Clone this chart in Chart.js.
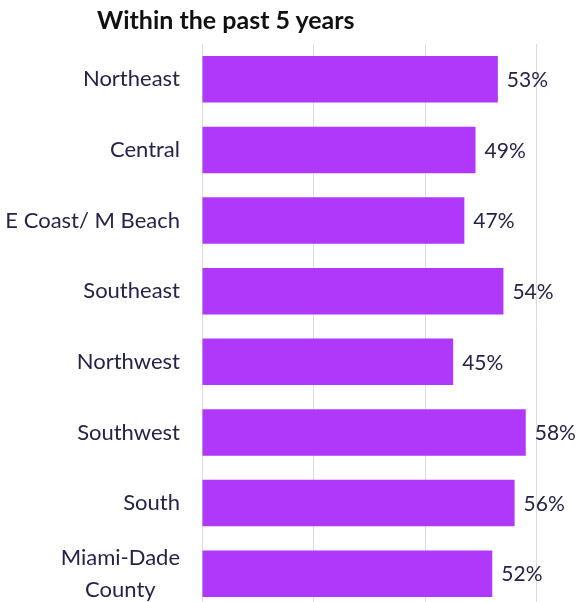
<!DOCTYPE html>
<html>
<head>
<meta charset="utf-8">
<script src="https://cdn.jsdelivr.net/npm/chart.js@4"></script>
<style>
  html,body{margin:0;padding:0;background:#fff;overflow:hidden;}
  #wrap{position:relative;width:576px;height:602px;}
  #title{position:absolute;left:97px;top:4px;font:bold 25px Lato, sans-serif;color:#111;white-space:nowrap;}
  #chart{position:absolute;left:0;top:0;}
</style>
</head>
<body>
<div id="wrap">
  <canvas id="chart" width="576" height="609"></canvas>
  <div id="title">Within the past 5 years</div>
</div>
<script>
/* Regions, share within the past 5 years (%) */
const regions = ['Northeast','Central','E Coast/ M Beach','Southeast','Northwest','Southwest','South',['Miami-Dade','County']];
const shares = [53,49,47,54,45,58,56,52];
const xTicks = [0,20,40,60];

const purple = '#b038fa';
const grid = '#dcdcdc';
const text = '#25234a';

// value labels at the end of each bar
const valueLabels = {
  id:'valueLabels',
  afterDatasetsDraw(chart){
    const ctx = chart.ctx;
    const meta = chart.getDatasetMeta(0);
    ctx.save();
    ctx.font = '21px Lato, sans-serif';
    ctx.fillStyle = text;
    ctx.textAlign = 'left';
    ctx.textBaseline = 'middle';
    meta.data.forEach((bar,i)=>{
      ctx.fillText(shares[i]+'%', bar.x+9, bar.y+1);
    });
    ctx.restore();
  }
};

// category labels: block right-aligned to the axis, lines centred within the block
const categoryLabels = {
  id:'categoryLabels',
  afterDraw(chart){
    const ctx = chart.ctx;
    const y = chart.scales.y;
    const right = y.right - 22;
    const lh = 32;
    ctx.save();
    ctx.font = '22px Lato, sans-serif';
    ctx.fillStyle = text;
    ctx.textAlign = 'center';
    ctx.textBaseline = 'middle';
    regions.forEach((lab,i)=>{
      const lines = Array.isArray(lab) ? lab : [lab];
      const w = Math.max(...lines.map(l=>ctx.measureText(l).width));
      const cy = y.getPixelForTick(i);
      lines.forEach((l,j)=>{
        ctx.fillText(l, right - w/2, cy + (j-(lines.length-1)/2)*lh);
      });
    });
    ctx.restore();
  }
};

new Chart(document.getElementById('chart'),{
  type:'bar',
  data:{
    labels:regions,
    datasets:[{
      data:shares,
      backgroundColor:purple,
      borderWidth:0,
      barPercentage:0.66,
      categoryPercentage:1
    }]
  },
  options:{
    indexAxis:'y',
    responsive:false,
    animation:false,
    layout:{padding:{top:44,right:0,bottom:0,left:0}},
    plugins:{legend:{display:false},tooltip:{enabled:false}},
    scales:{
      x:{
        min:0,max:67,
        afterBuildTicks(scale){ scale.ticks = xTicks.map(v=>({value:v})); },
        ticks:{display:false},
        grid:{color:grid,drawTicks:false},
        border:{color:grid}
      },
      y:{
        afterFit(scale){
          scale.width = 202;
          scale.paddingTop = 0;
          scale.paddingBottom = 0;
        },
        ticks:{display:false},
        grid:{display:false,drawTicks:false},
        border:{display:false}
      }
    }
  },
  plugins:[valueLabels,categoryLabels]
});
</script>
</body>
</html>
